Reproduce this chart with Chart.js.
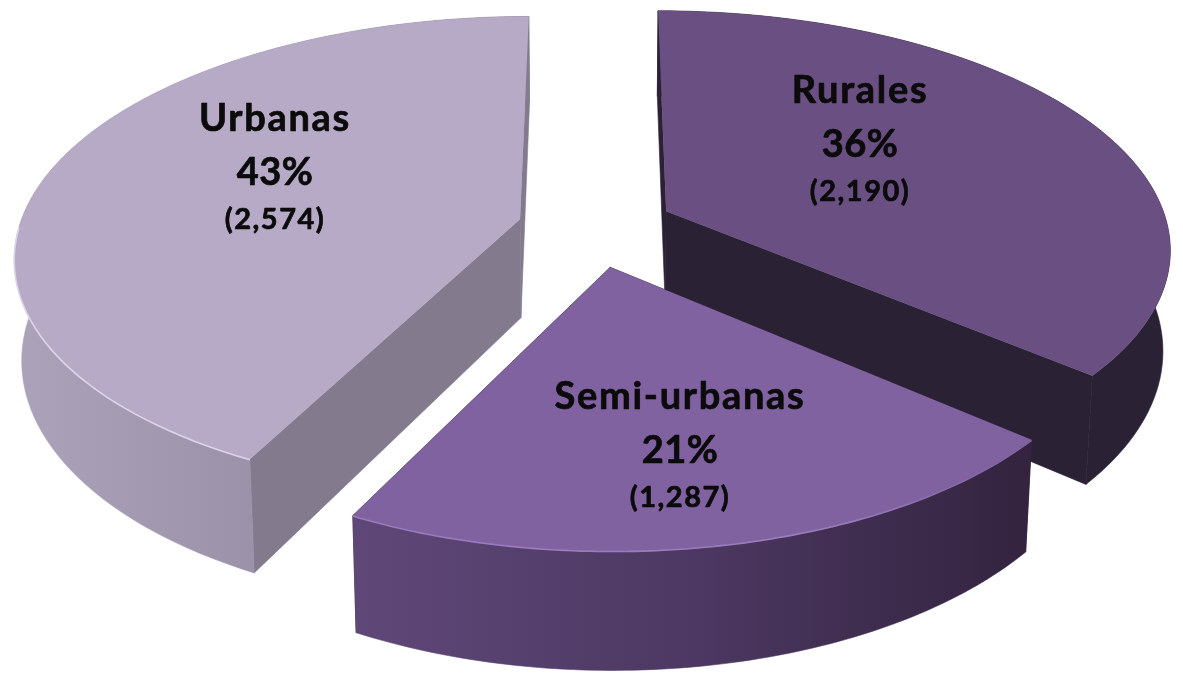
<!DOCTYPE html>
<html><head><meta charset="utf-8">
<style>html,body{margin:0;padding:0;background:#fff}canvas{display:block}</style>
<script src="https://cdn.jsdelivr.net/npm/chart.js@4"></script>
</head><body>
<canvas id="c" width="1183" height="677"></canvas>
<script>
const categories = ['Rurales', 'Semi-urbanas', 'Urbanas'];
const counts = [2190, 1287, 2574];
const percentLabels = ['36%', '21%', '43%'];
const countLabels = ['(2,190)', '(1,287)', '(2,574)'];
const topColors = ['#6a5082', '#8062a0', '#b6aac6'];

const view = {cx: 590, cy: 228, a: 505, b: 239, p: 0.15, depth: 99, shrink: 0.987};
const looks = [
  {cut: '#2b2135', wall: [[0, '#2b2135'], [1, '#2b2135']], rim: null, dx: 13, dy: -3, sx: 0.993, sy: 0.98},
  {cut: '#35253f', wall: [[0, '#5f4878'], [0.5, '#4c3862'], [1, '#33233e']], rim: '#9a7cbe', dx: 6, dy: 6, sx: 0.962, sy: 0.965},
  {cut: '#837a8e', wall: [[0, '#aca2b9'], [0.5, '#9a90a8'], [1, '#857b90']], rim: '#dcd5ea', dx: -2, dy: -1, sx: 0.992, sy: 0.985}
];
const textSpots = [[860, 103], [680, 409], [275, 131]];

function project(u, v, low) {
  const s = 1 / (1 - view.p * v);
  let x = view.cx + view.a * u * s;
  let y = view.cy + view.b * v * s;
  if (low) { x = view.cx + (x - view.cx) * view.shrink; y += view.depth * s; }
  return [x, y];
}
function trace(ctx, pts) {
  ctx.beginPath();
  pts.forEach((p, i) => i ? ctx.lineTo(p[0], p[1]) : ctx.moveTo(p[0], p[1]));
  ctx.closePath();
}
const pie3d = {
  id: 'pie3d',
  beforeDatasetsDraw(chart) {
    const ctx = chart.ctx;
    const arcs = chart.getDatasetMeta(0).data;
    ctx.save();
    ctx.lineJoin = 'round';
    arcs.forEach((arc, i) => {
      const {startAngle, endAngle, outerRadius: R} = arc.getProps(['startAngle', 'endAngle', 'outerRadius'], true);
      const d = arc.options.offset / R, mid = (startAngle + endAngle) / 2;
      const ou = Math.cos(mid) * d, ov = Math.sin(mid) * d;
      const L = looks[i];
      const apex = project(ou, ov, false);
      const fit = (q, low) => {
        const h = project(q[0], q[1], false), l = project(q[0], q[1], true);
        const x = apex[0] + (h[0] - apex[0]) * L.sx + L.dx;
        const y = apex[1] + (h[1] - apex[1]) * L.sy + L.dy;
        return low ? [x + l[0] - h[0], y + l[1] - h[1]] : [x, y];
      };
      const N = 90, rimU = [];
      for (let k = 0; k <= N; k++) {
        const t = startAngle + (endAngle - startAngle) * k / N;
        rimU.push([ou + Math.cos(t), ov + Math.sin(t)]);
      }
      const hi = rimU.map(q => fit(q, false));
      const lo = rimU.map(q => fit(q, true));
      const aHi = fit([ou, ov], false), aLo = fit([ou, ov], true);
      // radial cut faces
      ctx.fillStyle = L.cut; ctx.strokeStyle = L.cut; ctx.lineWidth = 0.6;
      [[aHi, hi[0], lo[0], aLo], [aHi, hi[N], lo[N], aLo]].forEach(q => { trace(ctx, q); ctx.fill(); ctx.stroke(); });
      // outer wall
      const xs = hi.concat(lo).map(p => p[0]);
      const g = ctx.createLinearGradient(Math.min(...xs), 0, Math.max(...xs), 0);
      L.wall.forEach(s => g.addColorStop(s[0], s[1]));
      ctx.fillStyle = g; ctx.strokeStyle = g; ctx.lineWidth = 0.6;
      trace(ctx, hi.concat(lo.slice().reverse())); ctx.fill(); ctx.stroke();
      // top face
      ctx.fillStyle = topColors[i];
      trace(ctx, [aHi].concat(hi)); ctx.fill();
      // bevel highlight on the near part of the rim, fading to the right
      if (L.rim) {
        const rg = ctx.createLinearGradient(Math.min(...xs), 0, Math.max(...xs), 0);
        rg.addColorStop(0, L.rim); rg.addColorStop(0.7, L.rim); rg.addColorStop(1, topColors[i]);
        ctx.strokeStyle = rg; ctx.lineWidth = 1.6;
        ctx.beginPath();
        let on = false;
        rimU.forEach((q, k) => {
          if (q[1] - ov < 0.02) { on = false; return; }
          on ? ctx.lineTo(hi[k][0], hi[k][1] + 0.5) : ctx.moveTo(hi[k][0], hi[k][1] + 0.5);
          on = true;
        });
        ctx.stroke();
      }
    });
    ctx.restore();
    return false;
  },
  afterDraw(chart) {
    const ctx = chart.ctx;
    ctx.save();
    ctx.fillStyle = '#0b0b0b';
    ctx.strokeStyle = '#0b0b0b';
    ctx.lineWidth = 0.7;
    ctx.lineJoin = 'round';
    ctx.textAlign = 'center';
    ctx.textBaseline = 'alphabetic';
    const put = (t, x, y) => { ctx.fillText(t, x, y); ctx.strokeText(t, x, y); };
    categories.forEach((name, i) => {
      const [x, y] = textSpots[i];
      ctx.letterSpacing = '1.7px';
      ctx.font = 'bold 38px Lato';
      put(name, x, y);
      ctx.letterSpacing = '0.5px';
      ctx.font = 'bold 38px Lato';
      put(percentLabels[i], x, y + 54);
      ctx.letterSpacing = '1.5px';
      ctx.font = 'bold 29px Lato';
      put(countLabels[i], x, y + 98);
    });
    ctx.restore();
  }
};
new Chart(document.getElementById('c'), {
  type: 'pie',
  data: {labels: categories, datasets: [{data: counts, backgroundColor: topColors, borderWidth: 0, offset: 44}]},
  options: {
    responsive: false, animation: false,
    plugins: {legend: {display: false}, tooltip: {enabled: false}},
    layout: {padding: 0}
  },
  plugins: [pie3d]
});
</script>
</body></html>
